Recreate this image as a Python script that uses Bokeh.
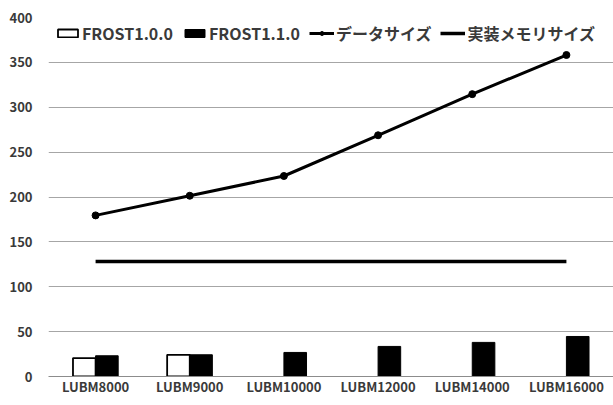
from bokeh.plotting import figure
from bokeh.models import ColumnDataSource, FactorRange, Range1d, Legend, LegendItem
from bokeh.transform import dodge
from bokeh.embed import file_html
from bokeh.resources import INLINE

# Datasets and measured values
datasets = ["LUBM8000", "LUBM9000", "LUBM10000", "LUBM12000", "LUBM14000", "LUBM16000"]
frost_100 = [20.5, 24.2, float("nan"), float("nan"), float("nan"), float("nan")]
frost_110 = [23.1, 24.2, 26.8, 33.5, 38.0, 44.6]
data_size = [179.5, 201.4, 223.4, 268.8, 314.6, 358.2]
memory_size = [128, 128, 128, 128, 128, 128]
y_ticks = [0, 50, 100, 150, 200, 250, 300, 350, 400]

FONT = "Noto Sans CJK JP"
TEXT = "#3a3a3a"

src = ColumnDataSource(dict(
    ds=datasets, f100=frost_100, f110=frost_110, data=data_size, mem=memory_size,
))

p = figure(
    width=613, height=405,
    x_range=FactorRange(*datasets, range_padding=0),
    y_range=Range1d(0, 400),
    output_backend="svg", toolbar_location=None,
    min_border_left=48, min_border_right=0, min_border_top=17, min_border_bottom=29,
)
p.outline_line_color = None
p.background_fill_color = "white"
p.border_fill_color = "white"

bw = 0.24
r100 = p.vbar(x=dodge("ds", -bw / 2, range=p.x_range), top="f100", width=bw, source=src,
              fill_color="white", line_color="black", line_width=1.8)
r110 = p.vbar(x=dodge("ds", bw / 2, range=p.x_range), top="f110", width=bw, source=src,
              fill_color="black", line_color="black", line_width=1)

r_mem = p.line(x="ds", y="mem", source=src, line_color="black", line_width=3.5)
r_data = p.line(x="ds", y="data", source=src, line_color="black", line_width=3)
r_pts = p.scatter(x="ds", y="data", source=src, size=7, marker="circle",
                  fill_color="black", line_color="black")

# Axes and grid
p.yaxis.ticker = y_ticks
p.yaxis.axis_line_color = None
p.yaxis.major_tick_line_color = None
p.yaxis.minor_tick_line_color = None
p.yaxis.major_label_standoff = 10
p.xaxis.axis_line_color = "#8c8c8c"
p.xaxis.axis_line_width = 1
p.xaxis.major_tick_line_color = None
p.xaxis.major_tick_out = 0
p.xaxis.major_label_standoff = 0
for ax in (p.xaxis, p.yaxis):
    ax.major_label_text_font = FONT
    ax.major_label_text_font_style = "bold"
    ax.major_label_text_font_size = "13px"
    ax.major_label_text_color = TEXT
p.xgrid.grid_line_color = None
p.ygrid.grid_line_color = "#a6a6a6"
p.ygrid.grid_line_width = 1

legend = Legend(
    items=[
        LegendItem(label="FROST1.0.0", renderers=[r100]),
        LegendItem(label="FROST1.1.0", renderers=[r110]),
        LegendItem(label="データサイズ", renderers=[r_data, r_pts]),
        LegendItem(label="実装メモリサイズ", renderers=[r_mem]),
    ],
    orientation="horizontal",
    location=(7, 331),
    padding=0, margin=0, spacing=9,
    glyph_width=25, glyph_height=10, label_height=20,
    label_standoff=2,
    label_text_font=FONT, label_text_font_style="bold",
    label_text_font_size="16px", label_text_color=TEXT,
    background_fill_alpha=0, border_line_alpha=0,
)
p.add_layout(legend, "center")

open("out.html", "w").write(file_html(p, INLINE))
